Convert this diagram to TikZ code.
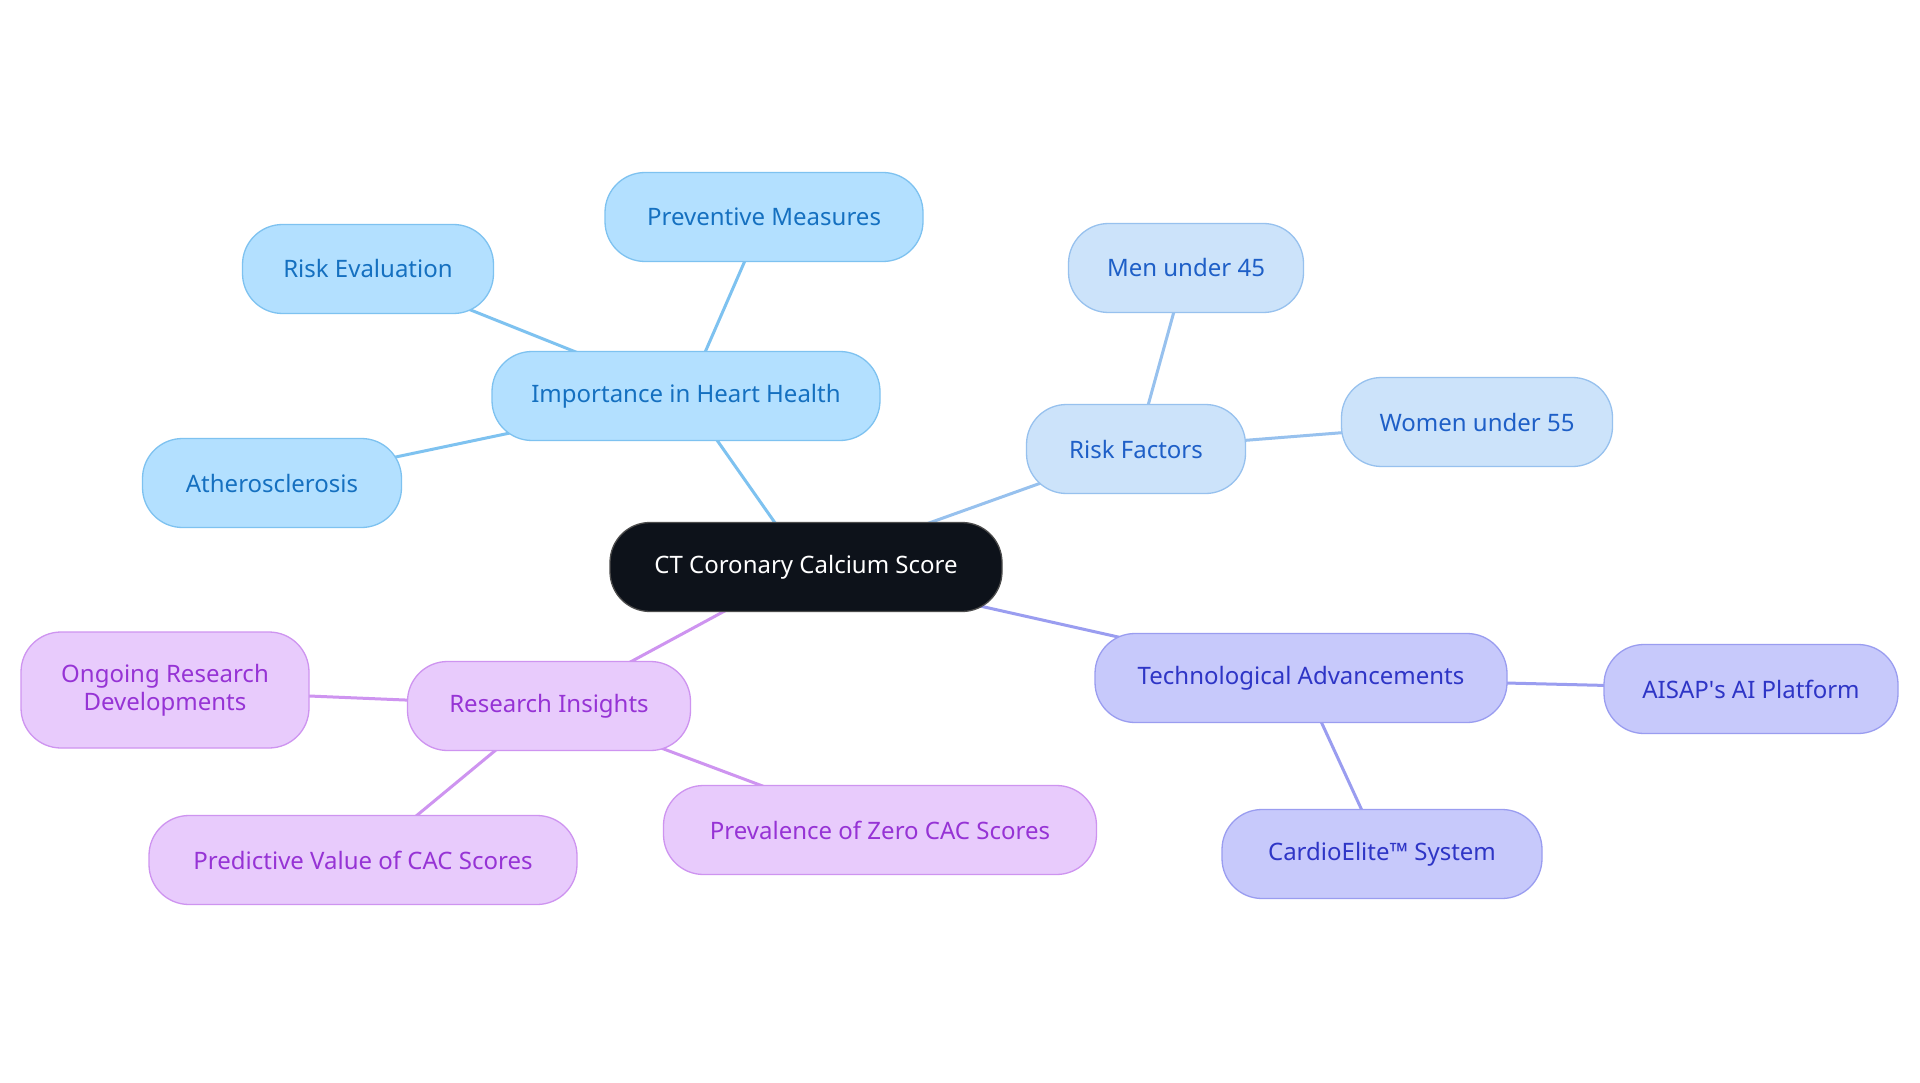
\documentclass[tikz,border=0pt]{standalone}
\usepackage{fontspec}
\setmainfont{Noto Sans}
\usetikzlibrary{backgrounds}
\definecolor{bfill}{HTML}{B3E0FF}\definecolor{bdraw}{HTML}{7EC2F0}\definecolor{btext}{HTML}{1570C0}
\definecolor{rfill}{HTML}{CCE3FA}\definecolor{rdraw}{HTML}{97C1EE}\definecolor{rtext}{HTML}{1E5FC7}
\definecolor{tfill}{HTML}{C7C9FB}\definecolor{tdraw}{HTML}{9A9DF0}\definecolor{ttext}{HTML}{2E35C6}
\definecolor{pfill}{HTML}{E8CBFC}\definecolor{pdraw}{HTML}{CE94F0}\definecolor{ptext}{HTML}{9633D5}
\definecolor{cfill}{HTML}{0D121A}
\begin{document}
\begin{tikzpicture}[x=1pt,y=-1pt,
  box/.style={rounded corners=40pt,minimum height=89pt,line width=1.3pt,align=center,
    font=\fontsize{24}{28}\selectfont,inner sep=0pt},
  bnode/.style={box,fill=bfill,draw=bdraw,text=btext},
  rnode/.style={box,fill=rfill,draw=rdraw,text=rtext},
  tnode/.style={box,fill=tfill,draw=tdraw,text=ttext},
  pnode/.style={box,fill=pfill,draw=pdraw,text=ptext},
  bedge/.style={line width=3pt,draw=bdraw},
  redge/.style={line width=3pt,draw=rdraw},
  tedge/.style={line width=3pt,draw=tdraw},
  pedge/.style={line width=3pt,draw=pdraw}]
\node[box,fill=cfill,draw=black!70,text=white,minimum width=392pt] (c) at (806,567) {CT Coronary Calcium Score};
\node[bnode,minimum width=388pt] (imp) at (686,396) {Importance in Heart Health};
\node[bnode,minimum width=318pt] (prev) at (764,217) {Preventive Measures};
\node[bnode,minimum width=251pt] (reval) at (368,269) {Risk Evaluation};
\node[bnode,minimum width=259pt] (ath) at (272,483) {Atherosclerosis};
\node[rnode,minimum width=219pt] (rf) at (1136,449) {Risk Factors};
\node[rnode,minimum width=235pt] (men) at (1186,268) {Men under 45};
\node[rnode,minimum width=271pt] (wom) at (1477,422) {Women under 55};
\node[tnode,minimum width=412pt] (tech) at (1301,678) {Technological Advancements};
\node[tnode,minimum width=294pt] (ais) at (1751,689) {AISAP\textquotesingle s AI Platform};
\node[tnode,minimum width=320pt] (card) at (1382,854) {CardioElite™ System};
\node[pnode,minimum width=283pt] (res) at (549,706) {Research Insights};
\node[pnode,minimum width=288pt,minimum height=116pt] (ong) at (165,690) {Ongoing Research\\Developments};
\node[pnode,minimum width=428pt] (pred) at (363,860) {Predictive Value of CAC Scores};
\node[pnode,minimum width=433pt] (zero) at (880,830) {Prevalence of Zero CAC Scores};
\begin{scope}[on background layer]
\fill[white] (0,0) rectangle (1920,1083);
\path[bedge] (c.center) -- (imp.center);
\path[bedge] (imp.center) -- (prev.center);
\path[bedge] (imp.center) -- (reval.center);
\path[bedge] (imp.center) -- (ath.center);
\path[redge] (c.center) -- (rf.center);
\path[redge] (rf.center) -- (men.center);
\path[redge] (rf.center) -- (wom.center);
\path[tedge] (c.center) -- (tech.center);
\path[tedge] (tech.center) -- (ais.center);
\path[tedge] (tech.center) -- (card.center);
\path[pedge] (c.center) -- (res.center);
\path[pedge] (res.center) -- (ong.center);
\path[pedge] (res.center) -- (pred.center);
\path[pedge] (res.center) -- (zero.center);
\end{scope}
\useasboundingbox (0,0) rectangle (1920,1083);
\end{tikzpicture}
\end{document}
